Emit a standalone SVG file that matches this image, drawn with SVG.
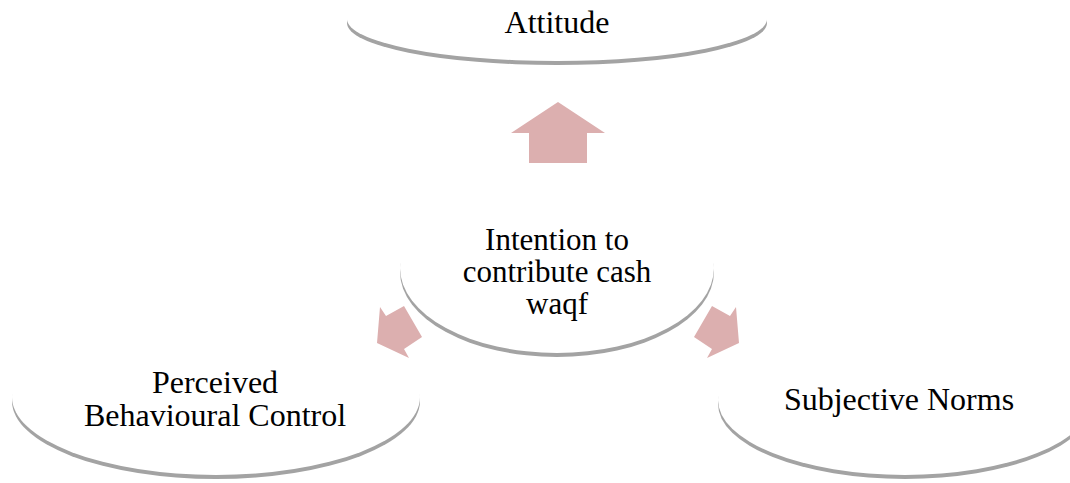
<svg xmlns="http://www.w3.org/2000/svg" width="1070" height="483" viewBox="0 0 1070 483">
<style>
.sh{fill:#a3a3a3}
.bd{fill:#ffffff}
.t{font-family:"Liberation Serif","Times New Roman",serif;font-size:32px;fill:#000;text-anchor:middle}
.c{font-size:31px}
.ar{fill:#dcafaf}
</style>
<rect width="1070" height="483" fill="#fff"/>
<g id="connectors">
<polygon class="ar" points="558,102 605,133 587,133 587,163 529,163 529,133 511,133"/>
<polygon class="ar" points="380,307 386,316 404,306 422,337 404,349 409,358 377,343"/>
<polygon class="ar" points="736,307 730,316 712,306 694,337 712,349 707,358 739,343"/>
</g>
<g id="attitude">
<ellipse class="sh" cx="557" cy="23" rx="210" ry="42"/>
<ellipse class="bd" cx="557" cy="19" rx="210" ry="42"/>
<text class="t" x="557" y="33">Attitude</text>
</g>
<g id="intention">
<ellipse class="sh" cx="557" cy="272" rx="157" ry="85"/>
<ellipse class="bd" cx="557" cy="268" rx="157" ry="85"/>
<text class="t c" x="557" y="250">Intention to</text>
<text class="t c" x="557" y="282">contribute cash</text>
<text class="t c" x="557" y="314">waqf</text>
</g>
<g id="pbc">
<ellipse class="sh" cx="216" cy="401" rx="204" ry="78"/>
<ellipse class="bd" cx="216" cy="397" rx="204" ry="78"/>
<text class="t" x="215" y="393">Perceived</text>
<text class="t" x="215" y="426">Behavioural Control</text>
</g>
<g id="sn">
<ellipse class="sh" cx="905" cy="404" rx="187" ry="75"/>
<ellipse class="bd" cx="905" cy="400" rx="187" ry="75"/>
<text class="t" x="899" y="410">Subjective Norms</text>
</g>
</svg>
